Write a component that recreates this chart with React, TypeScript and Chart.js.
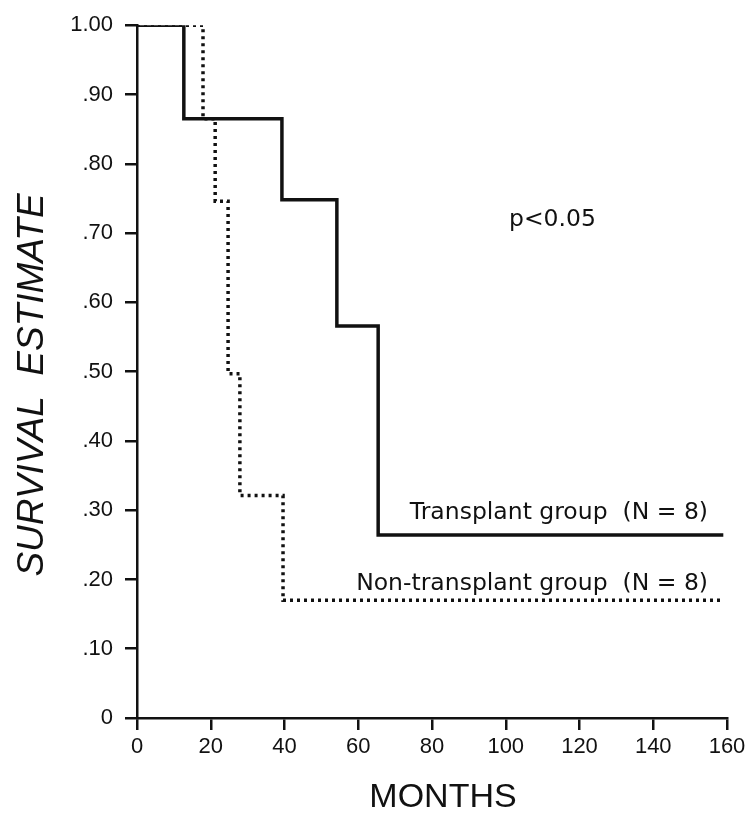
import React, { useEffect, useRef } from "react";
import { Chart, registerables } from "chart.js";

Chart.register(...registerables);

// Kaplan–Meier step points (months, survival estimate)
const transplantMonths = [0, 12.7, 39.3, 54.2, 65.4, 159];
const transplantSurvival = [1, 0.865, 0.748, 0.566, 0.264, 0.264];
const nonTransplantMonths = [0, 17.9, 21.2, 24.7, 27.9, 39.6, 158.4];
const nonTransplantSurvival = [1, 0.865, 0.746, 0.497, 0.321, 0.17, 0.17];

const xTickValues = [0, 20, 40, 60, 80, 100, 120, 140, 160];
const yTickLabels = ["0", ".10", ".20", ".30", ".40", ".50", ".60", ".70", ".80", ".90", "1.00"];

const yTitle = "SURVIVAL  ESTIMATE";
const xTitle = "MONTHS";
const pValueText = "p<0.05";
const transplantLabel = "Transplant group  (N = 8)";
const nonTransplantLabel = "Non-transplant group  (N = 8)";

const INK = "#111";

const textPlugin = {
  id: "kmText",
  afterDraw(chart: any) {
    const ctx = chart.ctx as CanvasRenderingContext2D;
    ctx.save();
    ctx.fillStyle = INK;
    ctx.textBaseline = "alphabetic";

    // y-axis title (rotated, italic)
    ctx.save();
    ctx.translate(43, 385);
    ctx.rotate(-Math.PI / 2);
    ctx.font = "italic 37px 'Liberation Sans', Arial, sans-serif";
    ctx.textAlign = "center";
    ctx.fillText(yTitle, 0, 0);
    ctx.restore();

    // x-axis title
    ctx.font = "34px 'Liberation Sans', Arial, sans-serif";
    ctx.textAlign = "center";
    ctx.fillText(xTitle, 443, 807);

    // annotations
    ctx.font = "23.5px 'DejaVu Sans', sans-serif";
    ctx.textAlign = "left";
    ctx.fillText(pValueText, 509, 226);
    ctx.textAlign = "right";
    ctx.fillText(transplantLabel, 708, 519);
    ctx.fillText(nonTransplantLabel, 708, 590);
    ctx.restore();
  },
};

export default function App() {
  const canvasRef = useRef<HTMLCanvasElement | null>(null);

  useEffect(() => {
    const canvas = canvasRef.current;
    if (!canvas) return;
    const transplantData = transplantMonths.map((m, i) => ({ x: m, y: transplantSurvival[i] }));
    const nonTransplantData = nonTransplantMonths.map((m, i) => ({ x: m, y: nonTransplantSurvival[i] }));

    const tickFont = { family: "'Liberation Sans', Arial, sans-serif", size: 22 };

    const chart = new Chart(canvas, {
      type: "line",
      data: {
        datasets: [
          {
            label: "Transplant group (N = 8)",
            data: transplantData,
            stepped: "before",
            borderColor: INK,
            borderWidth: 3.5,
            pointRadius: 0,
            fill: false,
          },
          {
            label: "Non-transplant group (N = 8)",
            data: nonTransplantData,
            stepped: "before",
            borderColor: INK,
            borderWidth: 3.5,
            borderDash: [3, 4],
            borderCapStyle: "butt",
            pointRadius: 0,
            fill: false,
          },
        ],
      },
      options: {
        animation: false,
        responsive: false,
        devicePixelRatio: 1,
        layout: { padding: { top: 23, right: 23, left: 0, bottom: 0 } },
        plugins: {
          legend: { display: false },
          tooltip: { enabled: false },
        },
        scales: {
          x: {
            type: "linear",
            min: 0,
            max: 160,
            afterBuildTicks: (scale: any) => {
              scale.ticks = xTickValues.map((v) => ({ value: v }));
            },
            afterFit: (scale: any) => {
              scale.height = 95;
            },
            ticks: {
              color: INK,
              font: tickFont,
              padding: 4,
              maxRotation: 0,
              autoSkip: false,
              callback: (v: any) => String(v),
            },
            grid: {
              drawOnChartArea: false,
              drawTicks: true,
              tickLength: 12,
              color: INK,
              lineWidth: 2.5,
            },
            border: { display: true, color: INK, width: 2.5 },
          },
          y: {
            type: "linear",
            min: 0,
            max: 1,
            afterBuildTicks: (scale: any) => {
              scale.ticks = yTickLabels.map((_, i) => ({ value: i / 10 }));
            },
            afterFit: (scale: any) => {
              scale.width = 137;
            },
            ticks: {
              color: INK,
              font: tickFont,
              padding: 12,
              autoSkip: false,
              callback: (_v: any, i: number) => yTickLabels[i],
            },
            grid: {
              drawOnChartArea: false,
              drawTicks: true,
              tickLength: 12,
              color: INK,
              lineWidth: 2.5,
            },
            border: { display: true, color: INK, width: 2.5 },
          },
        },
      },
      plugins: [textPlugin],
    } as any);

    return () => chart.destroy();
  }, []);

  return (
    <div style={{ position: "absolute", left: 0, top: 0, width: 750, height: 813, background: "#fff" }}>
      <canvas ref={canvasRef} width={750} height={813} style={{ width: 750, height: 813, display: "block" }} />
    </div>
  );
}
